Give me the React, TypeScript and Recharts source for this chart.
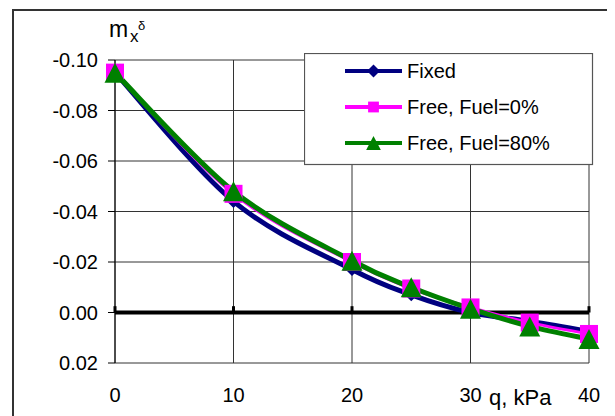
import React from "react";
import {
  LineChart,
  Line,
  XAxis,
  YAxis,
  CartesianGrid,
  ReferenceLine,
  Legend,
} from "recharts";

// q, kPa
const qValues = [0, 10, 20, 25, 30, 35, 40];
// m_x^delta for each case
const fixedValues = [-0.095, -0.044, -0.017, -0.007, 0.0, 0.0035, 0.0075];
const free0Values = [-0.095, -0.047, -0.02, -0.0095, -0.002, 0.004, 0.0085];
const free80Values = [-0.095, -0.048, -0.0205, -0.01, -0.0015, 0.0055, 0.0105];

const xTicks = [0, 10, 20, 30, 40];
const yTicks = [-0.1, -0.08, -0.06, -0.04, -0.02, 0, 0.02];

const seriesNames = ["Fixed", "Free, Fuel=0%", "Free, Fuel=80%"];

const data = qValues.map((q, i) => ({
  q,
  fixed: fixedValues[i],
  free0: free0Values[i],
  free80: free80Values[i],
}));

const FONT = "'Liberation Sans', Arial, sans-serif";

// spreadsheet-style smoothed line (Catmull-Rom as Bezier)
function smoothCurve(context: any) {
  let pts: number[][] = [];
  return {
    areaStart() {},
    areaEnd() {},
    lineStart() {
      pts = [];
    },
    point(x: number, y: number) {
      pts.push([+x, +y]);
    },
    lineEnd() {
      if (!pts.length) return;
      context.moveTo(pts[0][0], pts[0][1]);
      for (let i = 0; i < pts.length - 1; i++) {
        const p0 = pts[i - 1] || pts[i];
        const p1 = pts[i];
        const p2 = pts[i + 1];
        const p3 = pts[i + 2] || p2;
        context.bezierCurveTo(
          p1[0] + (p2[0] - p0[0]) / 6,
          p1[1] + (p2[1] - p0[1]) / 6,
          p2[0] - (p3[0] - p1[0]) / 6,
          p2[1] - (p3[1] - p1[1]) / 6,
          p2[0],
          p2[1]
        );
      }
    },
  };
}

function Marker({ kind, cx, cy, color, scale = 1 }: any) {
  if (cx == null || cy == null) return null;
  if (kind === "diamond") {
    const h = 6.5 * scale;
    return (
      <path
        d={`M${cx},${cy - h} L${cx + h},${cy} L${cx},${cy + h} L${cx - h},${cy} Z`}
        fill={color}
      />
    );
  }
  if (kind === "square") {
    const s = 18 * scale;
    return <rect x={cx - s / 2} y={cy - s / 2} width={s} height={s} fill={color} />;
  }
  const w = 21 * scale;
  const h = 20 * scale;
  return (
    <path
      d={`M${cx},${cy - h / 2} L${cx + w / 2},${cy + h / 2} L${cx - w / 2},${cy + h / 2} Z`}
      fill={color}
    />
  );
}

const markerKind: Record<string, string> = {
  fixed: "diamond",
  free0: "square",
  free80: "triangle",
};

const legendScale: Record<string, number> = {
  fixed: 1,
  free0: 0.6,
  free80: 0.7,
};

function renderLegend(props: any) {
  const items = props.payload || [];
  return (
    <svg width={290} height={113} style={{ display: "block" }}>
      <rect x={0.5} y={0.5} width={288} height={111} fill="#fff" stroke="#555" strokeWidth={1.2} />
      {items.map((item: any, i: number) => {
        const cy = 18 + i * 36;
        const key = item.dataKey;
        return (
          <g key={key}>
            <line x1={41} x2={98} y1={cy} y2={cy} stroke={item.color} strokeWidth={4} />
            <Marker kind={markerKind[key]} cx={69.5} cy={cy} color={item.color} scale={legendScale[key]} />
            <text x={103} y={cy + 7} fontSize={20} fontFamily={FONT} fill="#000">
              {item.value}
            </text>
          </g>
        );
      })}
    </svg>
  );
}

function dotFor(key: string, color: string) {
  return (p: any) => (
    <Marker key={`${key}-${p.index}`} kind={markerKind[key]} cx={p.cx} cy={p.cy} color={color} />
  );
}

export default function App() {
  return (
    <div style={{ position: "relative", width: 615, height: 416, marginLeft: -8, marginTop: -8, background: "#fff", overflow: "hidden" }}>
      <div
        style={{
          position: "absolute",
          left: 12,
          top: 9,
          width: 602,
          height: 440,
          border: "2px solid #333",
          boxSizing: "border-box",
        }}
      />
      <div style={{ position: "absolute", left: 0, top: 0 }}>
        <LineChart
          width={615}
          height={416}
          data={data}
          margin={{ top: 60, right: 26, bottom: 14, left: 55 }}
        >
          <CartesianGrid stroke="#333" strokeWidth={1} />
          <XAxis
            dataKey="q"
            type="number"
            domain={[0, 40]}
            ticks={xTicks}
            height={39}
            axisLine={false}
            tickLine={false}
            tickMargin={19}
            tick={{ fontSize: 20, fill: "#000", fontFamily: FONT }}
            label={{
              content: () => (
                <text x={489} y={405} fontSize={22} fontFamily={FONT} fill="#000">
                  q, kPa
                </text>
              ),
            }}
          />
          <YAxis
            reversed
            type="number"
            domain={[-0.1, 0.02]}
            ticks={yTicks}
            width={60}
            tickSize={7}
            tickMargin={10}
            axisLine={{ stroke: "#000" }}
            tickLine={{ stroke: "#000" }}
            tickFormatter={(v: number) => v.toFixed(2)}
            tick={{ fontSize: 20, fill: "#000", fontFamily: FONT }}
            label={{
              content: () => (
                <g fontFamily={FONT} fill="#000">
                  <text x={109} y={37} fontSize={23}>m</text>
                  <text x={130} y={42} fontSize={17}>x</text>
                  <text x={138} y={30} fontSize={13}>δ</text>
                </g>
              ),
            }}
          />
          <ReferenceLine y={0} stroke="#000" strokeWidth={4} />
          {xTicks.map((t) => (
            <ReferenceLine
              key={`tk-${t}`}
              segment={[
                { x: t, y: 0 },
                { x: t, y: -0.0025 },
              ]}
              stroke="#000"
              strokeWidth={3}
            />
          ))}
          <Legend
            layout="vertical"
            align="center"
            verticalAlign="middle"
            content={renderLegend}
            wrapperStyle={{ position: "absolute", left: 304, top: 53, width: 290, height: 113 }}
          />
          <Line
            dataKey="fixed"
            name={seriesNames[0]}
            type={smoothCurve as any}
            stroke="#000080"
            strokeWidth={5}
            dot={dotFor("fixed", "#000080")}
            isAnimationActive={false}
          />
          <Line
            dataKey="free0"
            name={seriesNames[1]}
            type={smoothCurve as any}
            stroke="#FF00FF"
            strokeWidth={3}
            dot={dotFor("free0", "#FF00FF")}
            isAnimationActive={false}
          />
          <Line
            dataKey="free80"
            name={seriesNames[2]}
            type={smoothCurve as any}
            stroke="#008000"
            strokeWidth={5}
            dot={dotFor("free80", "#008000")}
            isAnimationActive={false}
          />
        </LineChart>
      </div>
    </div>
  );
}
